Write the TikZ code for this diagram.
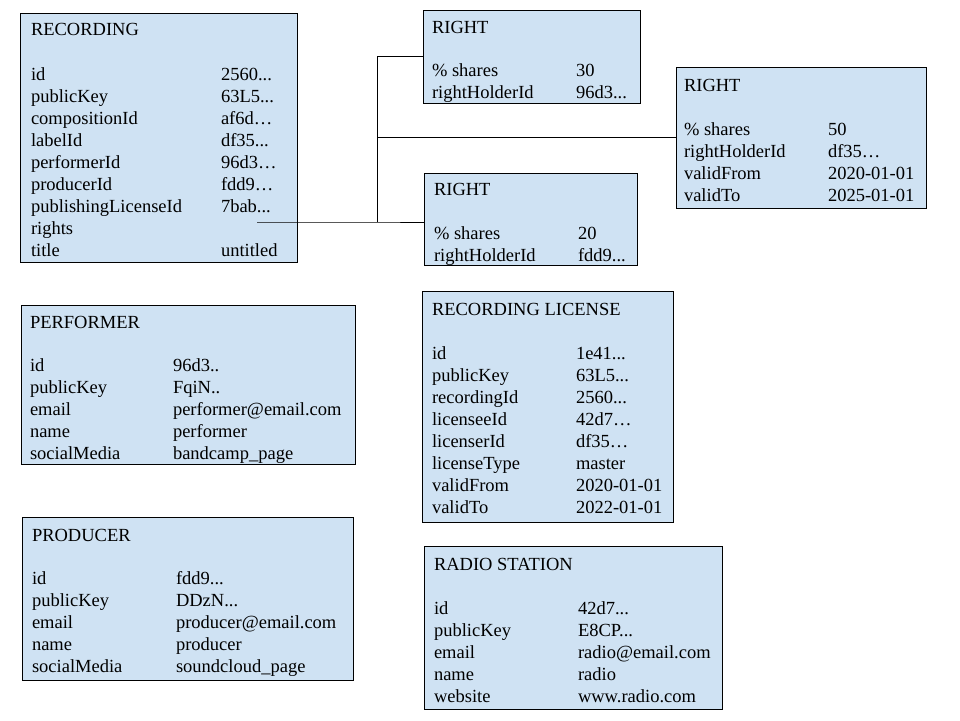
\documentclass[tikz,border=0pt]{standalone}
\usepackage{fontspec}
\setmainfont{Liberation Serif}
\definecolor{boxblue}{HTML}{CFE2F3}
\newcommand\ddd{...}
\newcommand\dd{..}
\begin{document}
\begin{tikzpicture}[x=1pt,y=-1pt,
  box/.style={draw=black, line width=0.8pt, fill=boxblue, inner sep=0pt, outer sep=0pt, anchor=north west},
  txt/.style={anchor=base west, inner sep=0pt, outer sep=0pt, font=\fontsize{18.5}{22}\selectfont},
  conn/.style={draw=black, line width=0.8pt}]
\useasboundingbox (0,0) rectangle (960,720);

% ---------- boxes ----------
\node[box, minimum width=277pt, minimum height=249pt] (rec) at (20,13) {};
\node[box, minimum width=217pt, minimum height=93pt] (r1) at (423,10) {};
\node[box, minimum width=250pt, minimum height=141pt] (r2) at (676,67) {};
\node[box, minimum width=213pt, minimum height=92pt] (r3) at (424,173) {};
\node[box, minimum width=334pt, minimum height=159pt] (perf) at (21,305) {};
\node[box, minimum width=331pt, minimum height=163pt] (prod) at (22,517) {};
\node[box, minimum width=251pt, minimum height=231pt] (lic) at (422,291) {};
\node[box, minimum width=298pt, minimum height=163pt] (radio) at (424,546) {};

% ---------- RECORDING ----------
\node[txt] (rec-t) at (31,35) {RECORDING};
\foreach \k/\v [count=\i] in {id/{2560\ddd}, publicKey/{63L5\ddd}, compositionId/{af6d…}, labelId/{df35\ddd}, performerId/{96d3…}, producerId/{fdd9…}, publishingLicenseId/{7bab\ddd}, rights/{}, title/untitled}
  {\node[txt] (rec-k\i) at (31,{80+22*(\i-1)}) {\k};
   \node[txt] (rec-v\i) at (221,{80+22*(\i-1)}) {\v};}

% ---------- RIGHT 1 ----------
\node[txt] (r1-t) at (432,33) {RIGHT};
\foreach \k/\v [count=\i] in {{\%\ shares}/30, rightHolderId/{96d3\ddd}}
  {\node[txt] (r1-k\i) at (432,{76+22*(\i-1)}) {\k};
   \node[txt] (r1-v\i) at (576,{76+22*(\i-1)}) {\v};}

% ---------- RIGHT 2 ----------
\node[txt] (r2-t) at (684,91) {RIGHT};
\foreach \k/\v [count=\i] in {{\%\ shares}/50, rightHolderId/{df35…}, validFrom/2020-01-01, validTo/2025-01-01}
  {\node[txt] (r2-k\i) at (684,{135+22*(\i-1)}) {\k};
   \node[txt] (r2-v\i) at (828,{135+22*(\i-1)}) {\v};}

% ---------- RIGHT 3 ----------
\node[txt] (r3-t) at (434,195) {RIGHT};
\foreach \k/\v [count=\i] in {{\%\ shares}/20, rightHolderId/{fdd9\ddd}}
  {\node[txt] (r3-k\i) at (434,{239+22*(\i-1)}) {\k};
   \node[txt] (r3-v\i) at (578,{239+22*(\i-1)}) {\v};}

% ---------- PERFORMER ----------
\node[txt] (perf-t) at (30,328) {PERFORMER};
\foreach \k/\v [count=\i] in {id/{96d3\dd}, publicKey/{FqiN\dd}, email/{performer@email.com}, name/performer, socialMedia/{bandcamp\_page}}
  {\node[txt] (perf-k\i) at (30,{371+22*(\i-1)}) {\k};
   \node[txt] (perf-v\i) at (173,{371+22*(\i-1)}) {\v};}

% ---------- PRODUCER ----------
\node[txt] (prod-t) at (32,541) {PRODUCER};
\foreach \k/\v [count=\i] in {id/{fdd9\ddd}, publicKey/{DDzN\ddd}, email/{producer@email.com}, name/producer, socialMedia/{soundcloud\_page}}
  {\node[txt] (prod-k\i) at (32,{584+22*(\i-1)}) {\k};
   \node[txt] (prod-v\i) at (176,{584+22*(\i-1)}) {\v};}

% ---------- RECORDING LICENSE ----------
\node[txt] (lic-t) at (432,315) {RECORDING LICENSE};
\foreach \k/\v [count=\i] in {id/{1e41\ddd}, publicKey/{63L5\ddd}, recordingId/{2560\ddd}, licenseeId/{42d7…}, licenserId/{df35…}, licenseType/master, validFrom/2020-01-01, validTo/2022-01-01}
  {\node[txt] (lic-k\i) at (432,{359+22*(\i-1)}) {\k};
   \node[txt] (lic-v\i) at (576,{359+22*(\i-1)}) {\v};}

% ---------- RADIO STATION ----------
\node[txt] (radio-t) at (434,570) {RADIO STATION};
\foreach \k/\v [count=\i] in {id/{42d7\ddd}, publicKey/{E8CP\ddd}, email/{radio@email.com}, name/radio, website/{www.radio.com}}
  {\node[txt] (radio-k\i) at (434,{614+22*(\i-1)}) {\k};
   \node[txt] (radio-v\i) at (578,{614+22*(\i-1)}) {\v};}

% ---------- connectors ----------
\coordinate (rs) at (257,222);
\coordinate (jn) at (377,222);
\draw[conn] (rs) -- (jn) -- (jn -| r3.west);
\draw[conn] (jn) |- (r1.west);
\draw[conn] (r2.west) -| (jn);
\end{tikzpicture}
\end{document}
